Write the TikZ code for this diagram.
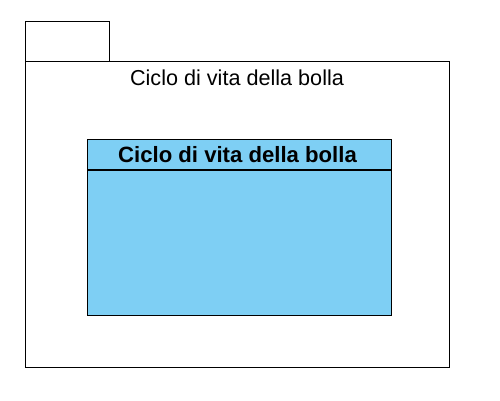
\documentclass[tikz,border=0pt]{standalone}
\usepackage{fontspec}
\setmainfont{Liberation Sans}
\usepackage{tikz}
\definecolor{classblue}{HTML}{7ECFF4}
\tikzset{
  box/.style = {draw, line width=0.8pt, inner sep=0pt, anchor=south west},
  pkgtitle/.style = {font=\fontsize{12.3}{14}\selectfont},
  clstitle/.style = {font=\fontsize{12.6}{15}\selectfont\bfseries}
}

\begin{document}
\begin{tikzpicture}
  \useasboundingbox (0,0) rectangle (10,8);
  %package
  \node [box, minimum width=1.68cm, minimum height=0.8cm] (tab) at (0.5,6.76) {};
  \node [box, minimum width=8.48cm, minimum height=6.12cm] (pkg) at (0.5,0.64) {};
  \node [pkgtitle] (pkgname) at (4.74,6.44) {Ciclo di vita della bolla};

  %class
  \node [box, fill=classblue, minimum width=6.08cm, minimum height=3.52cm] (cls) at (1.74,1.68) {};
  \coordinate (headl) at (1.74,4.6);
  \coordinate (headr) at (7.82,4.6);
  \draw [line width=0.8pt] (headl) -- (headr);
  \node [clstitle] (clsname) at (4.75,4.9) {Ciclo di vita della bolla};
\end{tikzpicture}
\end{document}
